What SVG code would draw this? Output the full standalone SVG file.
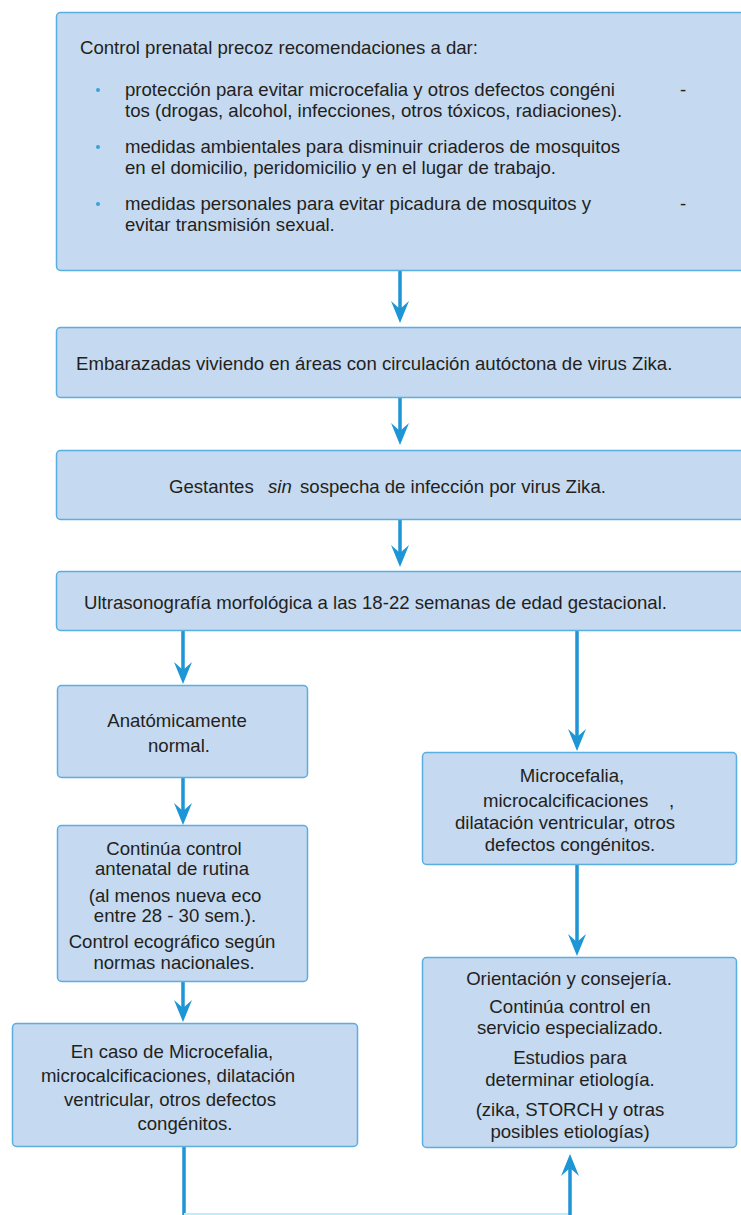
<svg xmlns="http://www.w3.org/2000/svg" width="741" height="1215" viewBox="0 0 741 1215">
<style>
.box{fill:#c5d9f0;stroke:#5aaee0;stroke-width:1.5}
.t{font-family:"Liberation Sans",Arial,sans-serif;font-size:18.6px;fill:#231f20}
.c{text-anchor:middle}
.bul{fill:#3aa0dc}
.ln{fill:none;stroke:#1e95d4;stroke-width:3.5}
.hd{fill:#1e95d4}
</style>
<rect width="741" height="1215" fill="#ffffff"/>
<g id="connectors">
<path class="ln" d="M400,271 V310"/><path class="hd" d="M400,323 L391,301 L400,309 L409,301 Z"/>
<path class="ln" d="M400,398 V432"/><path class="hd" d="M400,445 L391,423 L400,431 L409,423 Z"/>
<path class="ln" d="M400,520 V554"/><path class="hd" d="M400,567 L391,545 L400,553 L409,545 Z"/>
<path class="ln" d="M183,631 V670"/><path class="hd" d="M183,684 L174,662 L183,670 L192,662 Z"/>
<path class="ln" d="M183,778 V812"/><path class="hd" d="M183,825 L174,803 L183,811 L192,803 Z"/>
<path class="ln" d="M183,982 V1009"/><path class="hd" d="M183,1022 L174,1000 L183,1008 L192,1000 Z"/>
<path class="ln" d="M577,631 V737"/><path class="hd" d="M577,751 L568,729 L577,737 L586,729 Z"/>
<path class="ln" d="M577,865 V942"/><path class="hd" d="M577,956 L568,934 L577,942 L586,934 Z"/>
<path class="ln" d="M184,1147 V1215"/>
<path d="M184,1214 H570" fill="none" stroke="#bfeefb" stroke-width="2"/>
<path class="ln" d="M570,1215 V1168"/><path class="hd" d="M570,1154 L561,1176 L570,1168 L579,1176 Z"/>
</g>
<g id="n1">
<rect class="box" x="56.5" y="12.5" width="700" height="258" rx="4"/>
<text class="t" x="80" y="54">Control prenatal precoz recomendaciones a dar:</text>
<circle class="bul" cx="98" cy="90" r="2"/>
<text class="t" x="125" y="96">protección para evitar microcefalia y otros defectos congéni</text>
<text class="t" x="680" y="96">-</text>
<text class="t" x="125" y="117">tos (drogas, alcohol, infecciones, otros tóxicos, radiaciones).</text>
<circle class="bul" cx="98" cy="147" r="2"/>
<text class="t" x="125" y="153">medidas ambientales para disminuir criaderos de mosquitos</text>
<text class="t" x="125" y="174">en el domicilio, peridomicilio y en el lugar de trabajo.</text>
<circle class="bul" cx="98" cy="204" r="2"/>
<text class="t" x="125" y="210">medidas personales para evitar picadura de mosquitos y</text>
<text class="t" x="680" y="210">-</text>
<text class="t" x="125" y="231">evitar transmisión sexual.</text>
</g>
<g id="n2">
<rect class="box" x="56.5" y="327.5" width="700" height="70" rx="4"/>
<text class="t" x="76" y="370">Embarazadas viviendo en áreas con circulación autóctona de virus Zika.</text>
</g>
<g id="n3">
<rect class="box" x="56.5" y="450.5" width="700" height="69" rx="4"/>
<text class="t" x="169" y="493">Gestantes <tspan x="268" font-style="italic">sin</tspan><tspan x="300">sospecha de infección por virus Zika.</tspan></text>
</g>
<g id="n4">
<rect class="box" x="56.5" y="571.5" width="700" height="59" rx="4"/>
<text class="t" x="84" y="609">Ultrasonografía morfológica a las 18-22 semanas de edad gestacional.</text>
</g>
<g id="n5">
<rect class="box" x="57.5" y="685.5" width="250" height="92" rx="4"/>
<text class="t c" x="177" y="727">Anatómicamente</text>
<text class="t c" x="179" y="752">normal.</text>
</g>
<g id="n6">
<rect class="box" x="57.5" y="825.5" width="250" height="156" rx="4"/>
<text class="t c" x="174" y="855">Continúa control</text>
<text class="t c" x="172" y="875">antenatal de rutina</text>
<text class="t c" x="175" y="902">(al menos nueva eco</text>
<text class="t c" x="175" y="922">entre 28 - 30 sem.).</text>
<text class="t c" x="172" y="948">Control ecográfico según</text>
<text class="t c" x="174" y="969">normas nacionales.</text>
</g>
<g id="n7">
<rect class="box" x="12.5" y="1023.5" width="345" height="123" rx="4"/>
<text class="t c" x="172" y="1058">En caso de Microcefalia,</text>
<text class="t c" x="168" y="1082">microcalcificaciones, dilatación</text>
<text class="t c" x="170" y="1106">ventricular, otros defectos</text>
<text class="t c" x="185" y="1130">congénitos.</text>
</g>
<g id="n8">
<rect class="box" x="422.5" y="752.5" width="314" height="112" rx="4"/>
<text class="t c" x="572" y="782">Microcefalia,</text>
<text class="t" x="483" y="807">microcalcificaciones</text>
<text class="t" x="669" y="807">,</text>
<text class="t c" x="565" y="829">dilatación ventricular, otros</text>
<text class="t c" x="570" y="851">defectos congénitos.</text>
</g>
<g id="n9">
<rect class="box" x="422.5" y="957.5" width="314" height="190" rx="4"/>
<text class="t c" x="569" y="985">Orientación y consejería.</text>
<text class="t c" x="570" y="1013">Continúa control en</text>
<text class="t c" x="570" y="1034">servicio especializado.</text>
<text class="t c" x="570" y="1064">Estudios para</text>
<text class="t c" x="570" y="1086">determinar etiología.</text>
<text class="t c" x="570" y="1116">(zika, STORCH y otras</text>
<text class="t c" x="570" y="1138">posibles etiologías)</text>
</g>
</svg>
